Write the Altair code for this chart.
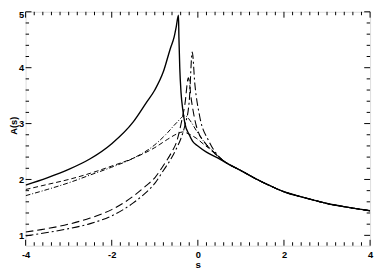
import altair as alt
import pandas as pd

x_ticks = [-4, -2, 0, 2, 4]
y_ticks = [1, 2, 3, 4, 5]

# common tail (all curves merge to the right of the peaks)
t_s = [0.7, 1.0, 1.35, 1.7, 2.0, 2.5, 3.0, 3.5, 4.0]
t_y = [2.28, 2.16, 2.01, 1.88, 1.78, 1.67, 1.57, 1.50, 1.44]

# solid curve
a_s = [-4.0, -3.5, -3.0, -2.5, -2.0, -1.5, -1.2, -1.0, -0.8, -0.64, -0.55, -0.5, -0.45,
       -0.44, -0.42, -0.39, -0.35, -0.3, -0.2, -0.12, 0.0, 0.2, 0.5]
a_y = [1.90, 2.03, 2.18, 2.37, 2.64, 3.03, 3.37, 3.60, 3.93, 4.34, 4.55, 4.74, 4.94,
       4.55, 4.00, 3.55, 3.25, 3.00, 2.80, 2.68, 2.60, 2.49, 2.37]

# upper dashed curve
b_s = [-4.0, -3.5, -3.0, -2.5, -2.0, -1.5, -1.0, -0.7, -0.5, -0.35, -0.2, -0.04, 0.15, 0.34, 0.5]
b_y = [1.82, 1.91, 2.00, 2.11, 2.24, 2.38, 2.57, 2.72, 2.81, 2.85, 2.81, 2.74, 2.62, 2.51, 2.39]

# upper dash-dot curve
c_s = [-4.0, -3.5, -3.0, -2.5, -2.0, -1.5, -1.0, -0.7, -0.5, -0.3, -0.15, -0.04, 0.15, 0.34, 0.5]
c_y = [1.71, 1.82, 1.94, 2.08, 2.22, 2.38, 2.62, 2.84, 3.01, 3.14, 3.02, 2.88, 2.67, 2.52, 2.40]

# lower dashed curve
d_s = [-4.0, -3.5, -3.0, -2.5, -2.0, -1.5, -1.2, -1.0, -0.8, -0.6, -0.5, -0.38, -0.3, -0.22,
       -0.15, -0.04, 0.19, 0.4, 0.55]
d_y = [1.06, 1.12, 1.20, 1.31, 1.46, 1.70, 1.89, 2.03, 2.25, 2.50, 2.66, 3.03, 3.35, 3.82,
       3.42, 2.97, 2.63, 2.46, 2.36]

# lower dash-dot curve
e_s = [-4.0, -3.5, -3.0, -2.5, -2.0, -1.5, -1.2, -1.0, -0.8, -0.6, -0.5, -0.4, -0.3, -0.2,
       -0.13, -0.07, 0.04, 0.26, 0.5]
e_y = [0.99, 1.05, 1.12, 1.21, 1.35, 1.58, 1.77, 1.93, 2.16, 2.40, 2.55, 2.72, 2.97, 3.40,
       4.28, 3.71, 3.14, 2.68, 2.40]

series = [
    ("A", a_s, a_y, None, 1.4),
    ("B", b_s, b_y, [5, 3], 1.0),
    ("C", c_s, c_y, [5, 2, 1, 2], 1.0),
    ("D", d_s, d_y, [8, 4], 1.1),
    ("E", e_s, e_y, [8, 3, 2, 3], 1.1),
]

W, H = 352, 239
FONT = "Liberation Sans"
xscale = alt.Scale(domain=[-4, 4], nice=False, zero=False)
yscale = alt.Scale(domain=[0.815, 5], nice=False, zero=False)

x_axis = alt.Axis(values=x_ticks, ticks=False, domain=False, grid=False,
                  labelFont=FONT, labelFontWeight="bold", labelFontSize=9.5,
                  labelPadding=4, labelExpr="'' + datum.value", labelFlush=False,
                  labelOverlap=False, labelColor="black",
                  title="s", titleFont=FONT, titleFontWeight="bold", titleFontSize=10,
                  titleY=22.5, titleBaseline="alphabetic", titleColor="black")
y_axis = alt.Axis(values=y_ticks, ticks=False, domain=False, grid=False,
                  labelFont=FONT, labelFontWeight="bold", labelFontSize=9.5,
                  labelPadding=2, labelExpr="'' + datum.value", labelFlush=False,
                  labelOverlap=False, labelColor="black",
                  labelOffset={"condition": {"test": "datum.value == 5", "value": 3}, "value": 0},
                  title="A(s)", titleFont=FONT, titleFontWeight="bold", titleFontSize=9.5,
                  titleAngle=270, titleX=-9.5, titleY=116, titleBaseline="alphabetic",
                  titleAlign="center", titleColor="black")

layers = []
for name, xs, ys, dash, sw in series:
    xs_all = xs + t_s
    ys_all = ys + t_y
    df = pd.DataFrame({"s": xs_all, "A": ys_all, "i": list(range(len(xs_all)))})
    mk = {"color": "black", "strokeWidth": sw, "clip": True, "interpolate": "monotone"}
    if dash is not None:
        mk["strokeDash"] = dash
    layers.append(
        alt.Chart(df).mark_line(**mk).encode(
            x=alt.X("s:Q", scale=xscale, axis=x_axis),
            y=alt.Y("A:Q", scale=yscale, axis=y_axis),
            order="i:Q",
        )
    )

x_minor = [round(-4 + 0.2 * k, 1) for k in range(41)]
x_minor = [v for v in x_minor if v not in x_ticks]
y_minor = [round(1 + 0.2 * k, 1) for k in range(21)]
y_minor = [v for v in y_minor if v not in y_ticks]

def xticks(vals, length, top):
    df = pd.DataFrame({"s": vals})
    if top:
        yy, yy2 = alt.value(0), alt.value(length)
    else:
        yy, yy2 = alt.value(H), alt.value(H - length)
    return alt.Chart(df).mark_rule(color="black", strokeWidth=1).encode(
        x=alt.X("s:Q", scale=xscale, axis=x_axis), y=yy, y2=yy2)

def yticks(vals, length, right):
    df = pd.DataFrame({"A": vals})
    if right:
        xx, xx2 = alt.value(W), alt.value(W - length)
    else:
        xx, xx2 = alt.value(0), alt.value(length)
    return alt.Chart(df).mark_rule(color="black", strokeWidth=1).encode(
        y=alt.Y("A:Q", scale=yscale, axis=y_axis), x=xx, x2=xx2)

tick_layers = [
    xticks(x_ticks, 6, False), xticks(x_minor, 3.5, False),
    xticks(x_ticks, 6, True), xticks(x_minor, 3.5, True),
    yticks(y_ticks, 6, False), yticks(y_minor, 3.5, False),
    yticks(y_ticks, 6, True), yticks(y_minor, 3.5, True),
]

chart = alt.layer(*(layers + tick_layers)).properties(
    width=W, height=H,
    padding={"left": 18, "top": 1, "right": 4, "bottom": 24},
    autosize=alt.AutoSizeParams(type="none"),
).configure_view(stroke="black", strokeWidth=1.4).configure(background="white")

chart.save("out.html", embed_options={"renderer": "svg", "actions": False})
